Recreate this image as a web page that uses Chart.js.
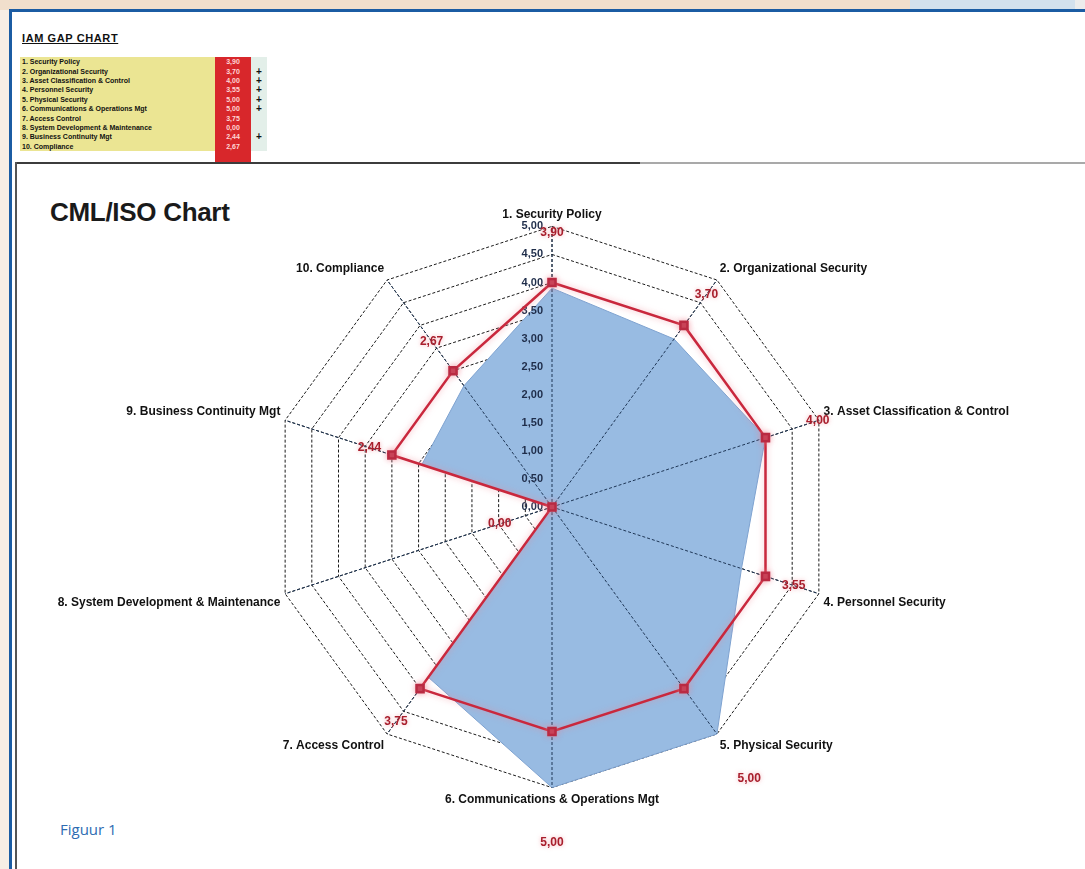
<!DOCTYPE html>
<html>
<head>
<meta charset="utf-8">
<title>CML/ISO Chart</title>
<script src="https://cdn.jsdelivr.net/npm/chart.js@4.4.0/dist/chart.umd.min.js"></script>
<style>
  body { margin: 0; width: 1085px; height: 869px; position: relative; overflow: hidden;
         background: #f7eee5; font-family: "Liberation Sans", Arial, sans-serif; }
  .band1 { position: absolute; left: 0; top: 0; width: 910px; height: 10px; background: #f1dfcc; }
  .band2 { position: absolute; left: 910px; top: 0; width: 165px; height: 10px; background: #d3e1ed; }
  .band3 { position: absolute; left: 1075px; top: 0; width: 10px; height: 10px; background: #ececec; }
  .page { position: absolute; left: 9px; top: 9px; right: 0; bottom: 0; background: #fff;
          border-top: 3px solid #1b5ca3; border-left: 3px solid #1b5ca3; }
  .gapTitle { position: absolute; left: 22px; top: 32px; font-size: 11px; font-weight: bold;
              text-decoration: underline; color: #111; letter-spacing: 0.6px; }
  table.gap { position: absolute; left: 20px; top: 57px; border-collapse: collapse; }
  table.gap td { height: 9.4px; padding: 0; font-size: 7px; font-weight: bold; line-height: 9px; white-space: nowrap; }
  table.gap td.name { width: 193px; background: #ebe593; padding-left: 2px; color: #111; }
  table.gap td.val { width: 36px; background: #d8272b; color: #ffd6d6; text-align: center; }
  table.gap td.mark { width: 16px; background: #e3efe9; color: #111; text-align: center; font-size: 10px; }
  .redTail { position: absolute; left: 215px; top: 151px; width: 36px; height: 12px; background: #d8272b; }
  .sep1 { position: absolute; left: 15px; top: 162px; width: 625px; height: 2px; background: #3c3c3c; }
  .sep2 { position: absolute; left: 640px; top: 162px; width: 445px; height: 2px; background: #a9a9a9; }
  .panelLeft { position: absolute; left: 15px; top: 162px; width: 2px; height: 707px; background: #555; }
  .chartTitle { position: absolute; left: 50px; top: 197px; font-size: 26px; font-weight: bold; color: #1a1a1a; letter-spacing: -0.3px; }
  .fig { position: absolute; left: 60px; top: 819px; font-family: "Open Sans", sans-serif; font-size: 15px; color: #2e6cb2; }
  .wrap { position: absolute; left: 0; top: 0; width: 1085px; height: 869px; pointer-events: none; }
</style>
</head>
<body>
<div class="band1"></div><div class="band2"></div><div class="band3"></div>
<div class="page"></div>
<div class="gapTitle">IAM GAP CHART</div>
<table class="gap" id="gapTable"></table>
<div class="redTail"></div>
<div class="sep1"></div><div class="sep2"></div>
<div class="panelLeft"></div>
<div class="chartTitle">CML/ISO Chart</div>
<div class="fig">Figuur 1</div>
<div class="wrap"><canvas id="radar" width="1085" height="869"></canvas></div>

<script>
const categories = [
  '1. Security Policy',
  '2. Organizational Security',
  '3. Asset Classification & Control',
  '4. Personnel Security',
  '5. Physical Security',
  '6. Communications & Operations Mgt',
  '7. Access Control',
  '8. System Development & Maintenance',
  '9. Business Continuity Mgt',
  '10. Compliance'
];
const actual = [3.90, 3.70, 4.00, 3.55, 5.00, 5.00, 3.75, 0.00, 2.44, 2.67];
const target = [4, 4, 4, 4, 4, 4, 4, 0, 3, 3];
const marks = ['', '+', '+', '+', '+', '+', '', '', '+', ''];
const scaleMin = 0;
const scaleMax = 5;
const scaleStep = 0.5;

const fmt = v => v.toFixed(2).replace('.', ',');

// small gap table at the top
const table = document.getElementById('gapTable');
categories.forEach((c, i) => {
  const tr = document.createElement('tr');
  tr.innerHTML = '<td class="name">' + c.replace('&', '&amp;') + '</td><td class="val">' +
    fmt(actual[i]) + '</td><td class="mark">' + marks[i] + '</td>';
  table.appendChild(tr);
});

const overlay = {
  id: 'overlay',
  beforeDatasetDraw(chart, args) {
    if (args.index === 0) {
      chart.ctx.save();
      chart.ctx.shadowColor = 'rgba(240,130,145,0.6)';
      chart.ctx.shadowBlur = 6;
    }
  },
  afterDatasetDraw(chart, args) {
    const ctx = chart.ctx;
    const r = chart.scales.r;
    if (args.index === 0) {
      ctx.restore();
      return;
    }
    // spokes over the filled area
    ctx.save();
    ctx.setLineDash([3, 2]);
    ctx.strokeStyle = '#1e3656';
    ctx.lineWidth = 1;
    categories.forEach((c, i) => {
      const p = r.getPointPosition(i, r.drawingArea);
      ctx.beginPath();
      ctx.moveTo(r.xCenter, r.yCenter);
      ctx.lineTo(p.x, p.y);
      ctx.stroke();
    });
    ctx.setLineDash([]);
    // tick labels along the first axis
    ctx.font = 'bold 11px "Liberation Sans", Arial';
    ctx.fillStyle = '#1f2d4a';
    ctx.textAlign = 'right';
    ctx.textBaseline = 'middle';
    r.ticks.forEach(t => {
      const p = r.getPointPositionForValue(0, t.value);
      ctx.fillText(fmt(t.value), r.xCenter - 9, p.y);
    });
    ctx.restore();
  },
  afterDatasetsDraw(chart) {
    const ctx = chart.ctx;
    const r = chart.scales.r;
    ctx.save();
    ctx.font = 'bold 12px "Liberation Sans", Arial';
    ctx.fillStyle = '#a81e2c';
    ctx.textAlign = 'center';
    ctx.textBaseline = 'middle';
    ctx.shadowColor = 'rgba(240,140,150,0.7)';
    ctx.shadowBlur = 4;
    actual.forEach((v, i) => {
      const p = r.getPointPosition(i, r.getDistanceFromCenterForValue(v) + 55);
      ctx.fillText(fmt(v), p.x, p.y);
    });
    ctx.restore();
  }
};

new Chart(document.getElementById('radar'), {
  type: 'radar',
  data: {
    labels: categories,
    datasets: [
      {
        label: 'Target',
        data: target,
        borderColor: '#c9283d',
        borderWidth: 2.5,
        fill: false,
        pointStyle: 'rect',
        pointRadius: 5,
        pointBackgroundColor: '#b92a42',
        pointBorderColor: '#b92a42'
      },
      {
        label: 'Actual',
        data: actual,
        backgroundColor: '#98bbe2',
        borderColor: '#7ea2d0',
        borderWidth: 1,
        fill: true,
        pointRadius: 0
      }
    ]
  },
  options: {
    responsive: false,
    animation: false,
    layout: {
      padding: { top: 207, bottom: 62, left: 20, right: 1 }
    },
    plugins: {
      legend: { display: false },
      tooltip: { enabled: false }
    },
    scales: {
      r: {
        min: scaleMin,
        max: scaleMax,
        ticks: { stepSize: scaleStep, display: false },
        grid: { color: '#1a1a1a', lineWidth: 1, circular: false },
        border: { dash: [3, 2] },
        angleLines: { color: '#1a1a1a', borderDash: [3, 2] },
        pointLabels: {
          color: '#111',
          padding: 5,
          font: { family: '"Liberation Sans", Arial', size: 12, weight: 'bold' }
        }
      }
    }
  },
  plugins: [overlay]
});
</script>
</body>
</html>
